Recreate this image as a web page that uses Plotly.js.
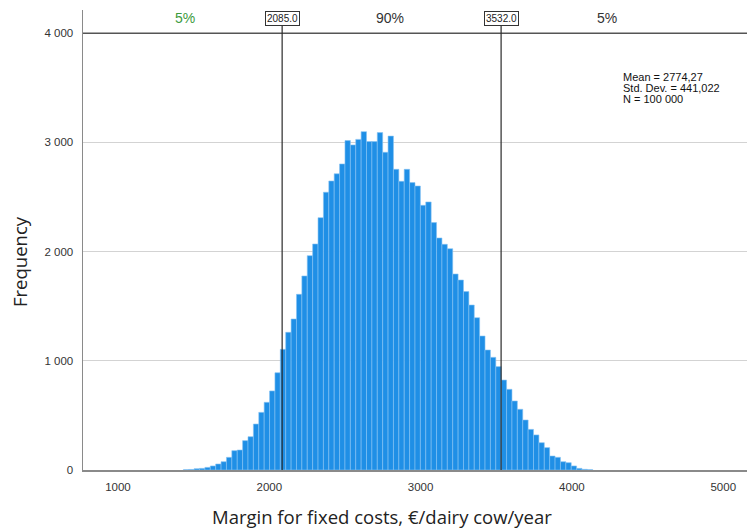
<!DOCTYPE html>
<html>
<head>
<meta charset="utf-8">
<script src="https://cdn.plot.ly/plotly-3.0.1.min.js"></script>
<style>html,body{margin:0;padding:0;background:#fff;}#chart{width:747px;height:530px;}</style>
</head>
<body>
<div id="chart"></div>
<script>
// Histogram: first bin left edge and bin width (€/dairy cow/year)
const binStart = 1432.2;
const binWidth = 35.6;
// Frequencies per bin
const counts = [3, 5, 12, 15, 24, 37, 55, 76, 116, 177, 183, 269, 305, 421, 528, 620, 724, 891,
  1105, 1261, 1383, 1609, 1777, 1963, 2070, 2311, 2544, 2647, 2713, 2803, 3017, 2977, 3028, 3099,
  3008, 3008, 3090, 2910, 3058, 2754, 2644, 2754, 2632, 2601, 2424, 2455, 2266, 2125, 2067, 2027,
  1795, 1740, 1634, 1511, 1395, 1227, 1099, 1032, 947,
  824, 739, 632, 556, 458, 372, 321, 250, 205, 128, 116, 76, 67, 37, 15, 6, 3];
const percentiles = [2085.0, 3532.0];
const percentileLabels = ["2085.0", "3532.0"];
const shareLabels = ["5%", "90%", "5%"];
const shareX = [1443, 2798, 4232];
const shareColors = ["#3d9b3d", "#333333", "#333333"];
const statsLines = ["Mean = 2774,27", "Std. Dev. = 441,022", "N = 100 000"];
const yTicks = [0, 1000, 2000, 3000, 4000];
const yTickText = ["0", "1 000", "2 000", "3 000", "4 000"];
const xTicks = [1000, 2000, 3000, 4000, 5000];
const xTickText = ["1000", "2000", "3000", "4000", "5000"];

const centers = counts.map((_, i) => binStart + binWidth * (i + 0.5));

const trace = {
  type: 'bar',
  x: centers,
  y: counts,
  width: binWidth,
  marker: {color: '#1f8fe6', line: {color: '#86c3f3', width: 0.6}},
  hoverinfo: 'x+y'
};

const shapes = [
  {type: 'line', xref: 'paper', x0: 0, x1: 1, yref: 'y', y0: 4000, y1: 4000,
   line: {color: '#555555', width: 1.6}, layer: 'above'}
];
percentiles.forEach(p => {
  shapes.push({type: 'line', xref: 'x', x0: p, x1: p, yref: 'y', y0: 0, y1: 4070,
    line: {color: '#2a2a2a', width: 1.2}, layer: 'above'});
});

const annotations = [];
percentiles.forEach((p, i) => {
  annotations.push({x: p, y: 4070, xref: 'x', yref: 'y', yanchor: 'bottom', xanchor: 'center',
    text: percentileLabels[i], showarrow: false, bordercolor: '#333', borderwidth: 1, borderpad: 1,
    bgcolor: '#fff', font: {family: 'Liberation Sans, Arial', size: 10, color: '#222'}});
});
shareLabels.forEach((t, i) => {
  annotations.push({x: shareX[i], y: 4140, xref: 'x', yref: 'y', text: t, showarrow: false,
    font: {family: 'Liberation Sans, Arial', size: 14, color: shareColors[i]}});
});
statsLines.forEach((t, i) => {
  annotations.push({x: 4325, y: 3600 - i * 101, xref: 'x', yref: 'y', xanchor: 'left', yanchor: 'middle',
    text: t, showarrow: false, font: {family: 'Liberation Sans, Arial', size: 11, color: '#111'}});
});

const L = 83, T = 10, W = 664, H = 460;
annotations.push({x: (382 - L) / W, y: 1 - (516 - T) / H, xref: 'paper', yref: 'paper',
  xanchor: 'center', yanchor: 'middle', text: 'Margin for fixed costs, €/dairy cow/year',
  showarrow: false, font: {family: 'Open Sans', size: 18.5, color: '#222'}});
annotations.push({x: (19 - L) / W, y: 1 - (262 - T) / H, xref: 'paper', yref: 'paper',
  xanchor: 'center', yanchor: 'middle', text: 'Frequency', textangle: -90, showarrow: false,
  font: {family: 'Open Sans', size: 18.5, color: '#222'}});

const layout = {
  width: 747, height: 530,
  margin: {l: L, r: 0, t: T, b: 60},
  paper_bgcolor: '#fff', plot_bgcolor: '#fff',
  showlegend: false,
  bargap: 0,
  xaxis: {range: [769, 5157], tickvals: xTicks, ticktext: xTickText, showgrid: false, zeroline: false,
    showline: true, linecolor: '#8a8a8a', linewidth: 1.5, ticks: '', ticklabelstandoff: 6,
    tickfont: {family: 'Liberation Sans, Arial', size: 11.5, color: '#333'}},
  yaxis: {range: [0, 4213], tickvals: yTicks, ticktext: yTickText, showgrid: true, gridcolor: '#d3d3d3',
    gridwidth: 1.2, zeroline: false, showline: true, linecolor: '#8a8a8a', linewidth: 1.5, ticks: '',
    ticklabelstandoff: 6, tickfont: {family: 'Liberation Sans, Arial', size: 11.5, color: '#333'}},
  shapes: shapes,
  annotations: annotations
};

Plotly.newPlot('chart', [trace], layout, {displayModeBar: false, staticPlot: true});
</script>
</body>
</html>
